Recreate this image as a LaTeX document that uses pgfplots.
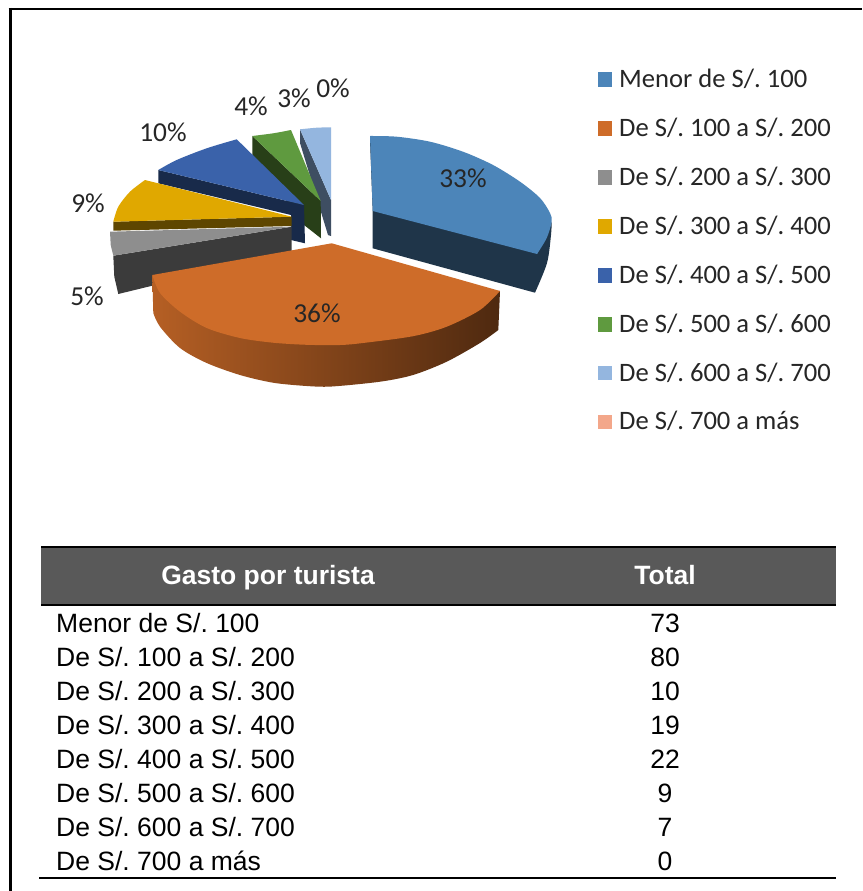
\documentclass[border=0pt]{standalone}
\usepackage{pgfplots}
\pgfplotsset{compat=1.18}
\usepackage{fontspec}
\setmainfont{Liberation Sans}
\newfontfamily\calib{Carlito}
\definecolor{cA}{HTML}{4C85B9}\definecolor{dA}{HTML}{1F3549}
\definecolor{cB}{HTML}{CE6C29}
\definecolor{cC}{HTML}{8E8E8E}\definecolor{dC}{HTML}{3B3B3B}
\definecolor{cD}{HTML}{E0A800}\definecolor{dD}{HTML}{5E4600}
\definecolor{cE}{HTML}{3A62AA}\definecolor{dE}{HTML}{182A4A}
\definecolor{cF}{HTML}{5F9A3F}\definecolor{dF}{HTML}{283F18}
\definecolor{cG}{HTML}{94B6DF}\definecolor{dG}{HTML}{3E4E62}
\definecolor{cH}{HTML}{F3A78A}
\definecolor{hdr}{HTML}{595959}
\definecolor{lab}{HTML}{262626}
\newcommand\poly[2]{\addplot[fill=#1,draw=none,forget plot] coordinates {#2} --cycle;}
% a wedge: smooth arc, then straight edges
\newcommand\arcfill[3]{\addplot[smooth,fill=#1,draw=none,forget plot] coordinates {#2} #3 --cycle;}
\newcommand\hl[4]{\addplot[draw=black,line width=#4,forget plot] coordinates {(#1,#3) (#2,#3)};}
\newcommand\sq[2]{\addplot[fill=#1,draw=none,forget plot] coordinates {(598,#2) (612,#2) (612,{#2+14.5}) (598,{#2+14.5})} --cycle;}
\begin{document}
\frenchspacing
\begin{tikzpicture}
\begin{axis}[
  scale only axis, width=862pt, height=891pt,
  xmin=0, xmax=862, ymin=0, ymax=891, y dir=reverse,
  hide axis, clip=true]
% page background keeps the whole sheet in the picture
\poly{white}{(0,0) (862,0) (862,891) (0,891)}
% frame
\hl{8.5}{862}{9}{2.8pt}
\addplot[draw=black,line width=2.8pt,forget plot] coordinates {(10.5,8) (10.5,891)};
% slice 7 (light blue)
\poly{dG}{(300,129.3) (331,200) (331,236) (328,235) (300,143)}
\arcfill{cG}{(300,129.3) (316.7,127.7) (331,127.3)}{-- (axis cs:331,200)}
% slice 6 (green)
\poly{dF}{(252.3,136) (320.7,201) (321,238.3) (304,225) (252.3,155)}
\arcfill{cF}{(252.3,136) (273.3,133.3) (291,130)}{-- (axis cs:320.7,201)}
% slice 5 (blue)
\poly{dE}{(158.3,170) (304,205) (305,243.3) (291,240) (291,215) (158.3,183.3)}
\arcfill{cE}{(158.3,170) (176.7,160) (206.7,148.3) (236.7,139.3)}{-- (axis cs:304,205)}
% slice 3 (grey)
\poly{dC}{(291.7,226.7) (291.7,251.7) (118.3,294) (114.3,276.7) (113.3,255.7)}
\poly{cC}{(110,231.7) (291.7,226.7) (113.3,255.7) (110.7,245)}
% slice 4 (gold)
\poly{dD}{(113.3,221.7) (113.3,230.7) (291.7,226) (291.7,216.7)}
\arcfill{cD}{(145,180) (130,191.7) (118.3,206.7) (113.3,221.7)}{-- (axis cs:291.7,216.7)}
% slice 2 (orange)
\addplot[smooth,left color=cB!88!black,middle color=black!45!cB,right color=black!62!cB,draw=none,forget plot] coordinates {
 (153.3,313) (160,326.7) (180,348) (206.7,363) (240,375) (273,382.7) (306.7,386) (331.7,386.5)
 (380,381.7) (413,375) (446.7,361.7) (480,343) (498.3,330)}
 -- (axis cs:500,291) -- (axis cs:152.3,275) --cycle;
\arcfill{cB}{(152.3,275) (160,293) (180,311.7) (206.7,328) (240,338) (273,342.7) (306.7,344.8) (340,345)
 (363,343) (413,336.2) (446.7,326.7) (480,310) (500,291)}{-- (axis cs:331.7,243.3)}
% slice 1 (blue)
\arcfill{dA}{(551.7,222) (551,235) (547,263) (535,292.7)}{-- (axis cs:372.7,248.3) -- (axis cs:372.7,211) -- (axis cs:370,140) -- (axis cs:537,254)}
\arcfill{cA}{(370,136) (396.7,136.7) (430,141.7) (463,151.7) (493,165) (520,181.7) (540,198) (550,213)
 (551.7,221.7) (546.7,238) (537,254)}{-- (axis cs:372.7,211)}
% legend squares
\sq{cA}{72}\sq{cB}{121}\sq{cC}{170}\sq{cD}{219}\sq{cE}{268}\sq{cF}{317}\sq{cG}{365.5}\sq{cH}{414.5}
% table
\poly{hdr}{(41,547) (836,547) (836,605) (41,605)}
\hl{41}{836}{547}{2pt}
\hl{41}{836}{605}{2.2pt}
\hl{39}{836}{878.3}{2pt}
% pie labels
\begin{scope}[every node/.style={font=\calib\fontsize{27.4}{30}\selectfont,text=lab,inner sep=0pt}]
\node at (axis cs:463,178) {33\%};
\node at (axis cs:317,313) {36\%};
\node at (axis cs:87,296) {5\%};
\node at (axis cs:88,203) {9\%};
\node at (axis cs:163,132) {10\%};
\node at (axis cs:251,106) {4\%};
\node at (axis cs:294,98) {3\%};
\node at (axis cs:333,88) {0\%};
\end{scope}
% legend text
\begin{scope}[every node/.style={font=\calib\fontsize{26.6}{30}\selectfont,text=lab,inner sep=0pt,anchor=base west}]
\node at (axis cs:619,87.3) {Menor de S/. 100};
\node at (axis cs:619,136.5) {De S/. 100 a S/. 200};
\node at (axis cs:619,185) {De S/. 200 a S/. 300};
\node at (axis cs:619,234) {De S/. 300 a S/. 400};
\node at (axis cs:619,283) {De S/. 400 a S/. 500};
\node at (axis cs:619,332) {De S/. 500 a S/. 600};
\node at (axis cs:619,381) {De S/. 600 a S/. 700};
\node at (axis cs:619,429) {De S/. 700 a más};
\end{scope}
% table text
\begin{scope}[every node/.style={font=\fontsize{26.5}{30}\selectfont,inner sep=0pt,anchor=base}]
\node[text=white,font=\bfseries\fontsize{26.5}{30}\selectfont] at (axis cs:268,584) {Gasto por turista};
\node[text=white,font=\bfseries\fontsize{26.5}{30}\selectfont] at (axis cs:665,584) {Total};
\node[anchor=base west] at (axis cs:56,632) {Menor de S/. 100};
\node[anchor=base west] at (axis cs:56,666) {De S/. 100 a S/. 200};
\node[anchor=base west] at (axis cs:56,700) {De S/. 200 a S/. 300};
\node[anchor=base west] at (axis cs:56,734) {De S/. 300 a S/. 400};
\node[anchor=base west] at (axis cs:56,768) {De S/. 400 a S/. 500};
\node[anchor=base west] at (axis cs:56,802) {De S/. 500 a S/. 600};
\node[anchor=base west] at (axis cs:56,836) {De S/. 600 a S/. 700};
\node[anchor=base west] at (axis cs:56,870) {De S/. 700 a más};
\node at (axis cs:665,632) {73};
\node at (axis cs:665,666) {80};
\node at (axis cs:665,700) {10};
\node at (axis cs:665,734) {19};
\node at (axis cs:665,768) {22};
\node at (axis cs:665,802) {9};
\node at (axis cs:665,836) {7};
\node at (axis cs:665,870) {0};
\end{scope}
\end{axis}
\end{tikzpicture}
\end{document}
